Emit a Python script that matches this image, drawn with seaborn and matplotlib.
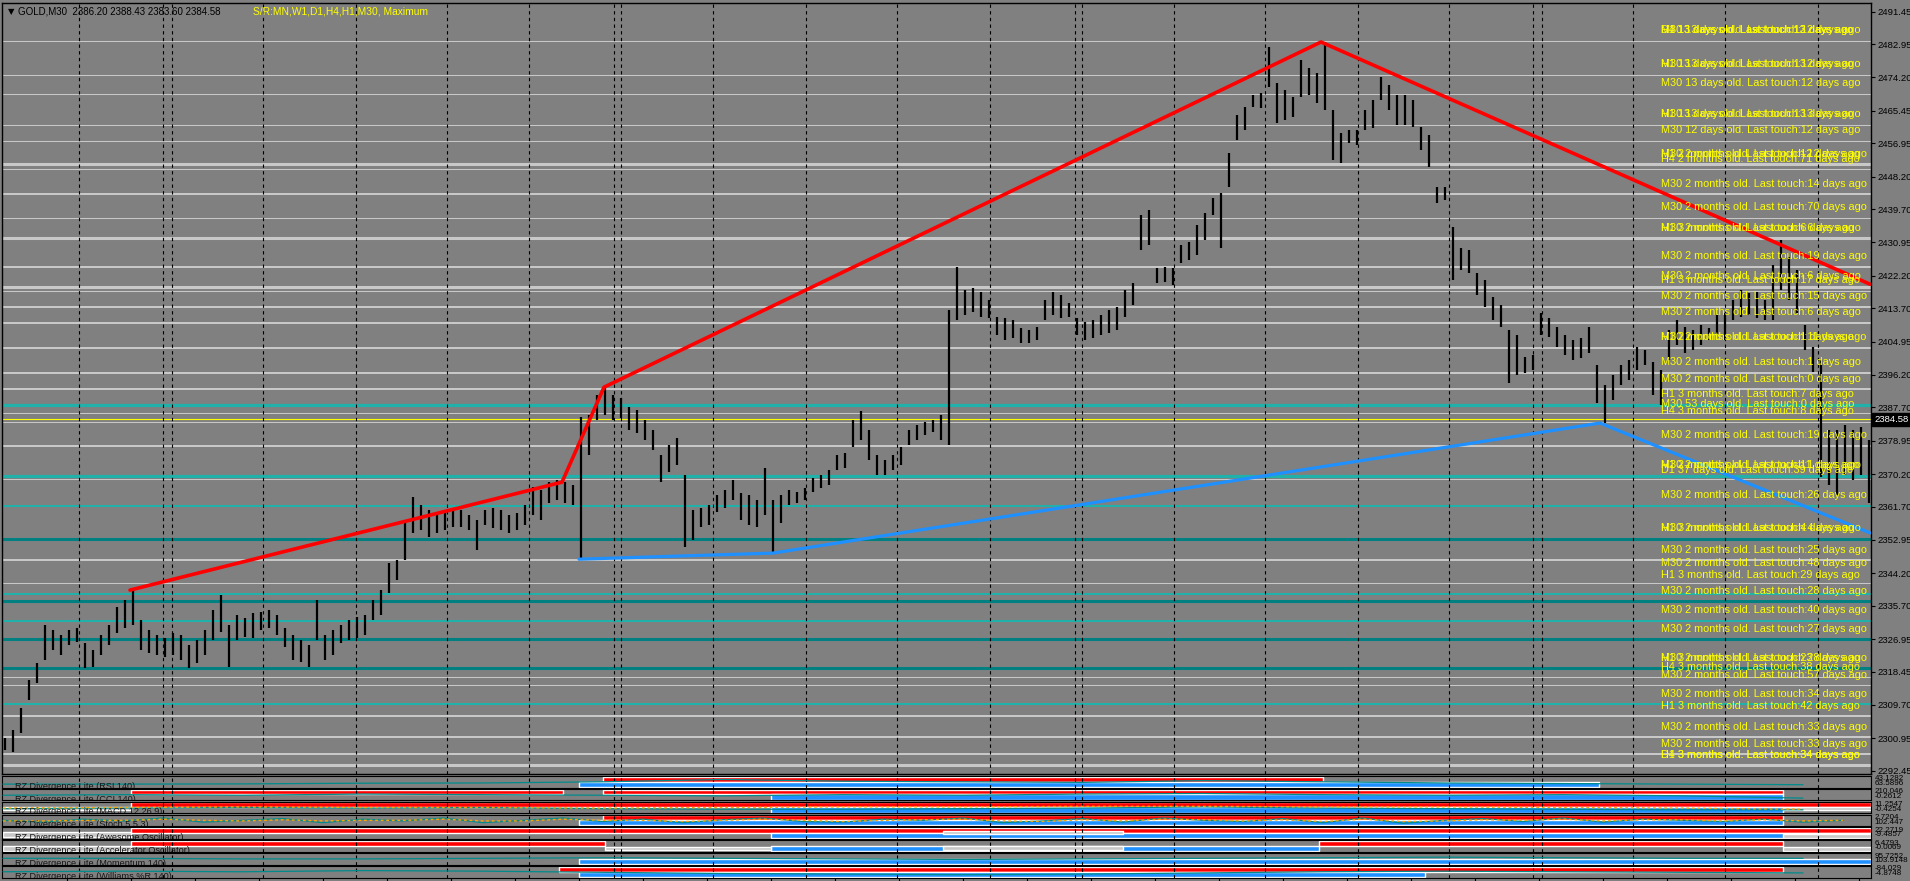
"""
GOLD M30 chart with S/R levels, trendlines and RZ Divergence panels (MT4 look).
"""
import numpy as np
import pandas as pd
import matplotlib
matplotlib.use("Agg")
import matplotlib.pyplot as plt
import matplotlib.transforms as mtransforms
import seaborn as sns

sns.set_style("white")
plt.rcParams["font.family"] = ["Liberation Sans", "DejaVu Sans"]

W, H = 1910, 881
BG = "#808080"

# ---- price bars, read every 4th M30 bar ----
BAR_HIGH = [
    2301.0, 2303.1, 2308.9, 2316.2, 2320.7, 2330.6, 2329.3, 2328.0, 2329.3, 2329.8,
    2325.9, 2324.1, 2328.0, 2330.6, 2335.3, 2337.2, 2339.8, 2331.9, 2329.3, 2328.0,
    2327.2, 2328.5, 2328.0, 2325.4, 2326.7, 2329.3, 2334.6, 2338.5, 2330.6, 2333.2,
    2332.5, 2333.8, 2334.0, 2334.6, 2333.2, 2329.8, 2328.0, 2326.7, 2325.4, 2337.2,
    2328.0, 2329.3, 2330.6, 2331.9, 2332.7, 2333.2, 2337.2, 2339.8, 2346.9, 2347.7,
    2358.2, 2364.2, 2362.1, 2360.8, 2359.5, 2360.3, 2361.3, 2360.8, 2359.5, 2358.2,
    2360.8, 2361.3, 2360.8, 2359.5, 2360.0, 2362.1, 2366.8, 2366.0, 2368.1, 2368.6,
    2368.1, 2367.3, 2385.2, 2385.7, 2390.9, 2393.0, 2390.9, 2390.1, 2387.8, 2387.0,
    2384.4, 2381.8, 2375.2, 2377.8, 2379.7, 2370.0, 2360.8, 2361.3, 2362.1, 2364.7,
    2366.0, 2368.6, 2365.2, 2364.7, 2363.4, 2371.8, 2363.4, 2364.7, 2366.0, 2365.5,
    2366.5, 2369.2, 2370.0, 2371.3, 2375.2, 2375.7, 2384.4, 2386.7, 2381.8, 2375.2,
    2373.9, 2375.2, 2377.3, 2381.8, 2383.1, 2383.9, 2384.4, 2385.7, 2413.2, 2424.5,
    2418.5, 2419.0, 2417.9, 2415.8, 2411.4, 2411.1, 2410.6, 2408.5, 2408.0, 2408.8,
    2415.8, 2417.9, 2417.2, 2415.1, 2411.1, 2410.1, 2410.6, 2411.9, 2413.2, 2414.0,
    2418.5, 2420.3, 2438.1, 2439.4, 2424.2, 2424.5, 2424.2, 2430.3, 2431.0, 2435.5,
    2438.7, 2442.6, 2443.9, 2454.4, 2464.3, 2466.4, 2469.6, 2470.1, 2482.2, 2472.7,
    2470.9, 2469.1, 2478.8, 2476.7, 2475.4, 2483.5, 2465.7, 2459.6, 2460.4, 2460.4,
    2465.7, 2468.3, 2474.3, 2472.2, 2469.6, 2469.6, 2468.3, 2461.2, 2459.1, 2445.5,
    2445.5, 2435.0, 2429.5, 2428.9, 2422.9, 2421.1, 2416.6, 2414.5, 2408.0, 2406.7,
    2400.9, 2401.4, 2412.4, 2411.1, 2408.8, 2406.7, 2405.4, 2405.9, 2408.8, 2398.8,
    2393.6, 2396.2, 2398.8, 2400.1, 2403.5, 2402.7, 2399.6, 2397.5, 2408.0, 2410.6,
    2408.8, 2408.0, 2409.3, 2408.5, 2411.9, 2412.4, 2415.8, 2418.5, 2417.7, 2417.9,
    2415.8, 2425.0, 2431.6, 2427.1, 2423.7, 2409.3, 2403.5, 2400.1, 2381.8, 2381.8,
    2383.1, 2381.8, 2382.5, 2379.1,
]
BAR_LOW = [
    2297.8, 2297.3, 2302.3, 2311.0, 2315.4, 2321.4, 2324.1, 2322.8, 2325.4, 2326.2,
    2319.3, 2319.6, 2322.8, 2325.4, 2328.5, 2329.8, 2330.6, 2324.1, 2323.3, 2322.8,
    2322.2, 2322.8, 2321.4, 2319.3, 2320.7, 2322.8, 2326.7, 2328.8, 2319.6, 2326.7,
    2327.5, 2327.2, 2329.3, 2329.8, 2328.0, 2324.9, 2321.4, 2320.9, 2319.6, 2326.7,
    2321.4, 2322.8, 2325.9, 2326.7, 2327.2, 2328.0, 2331.9, 2333.2, 2339.0, 2342.4,
    2347.7, 2354.7, 2355.5, 2353.7, 2354.7, 2355.5, 2356.3, 2356.3, 2355.5, 2350.3,
    2356.8, 2356.1, 2355.5, 2354.7, 2355.5, 2356.8, 2359.5, 2358.2, 2362.6, 2363.4,
    2362.6, 2362.1, 2347.7, 2375.2, 2384.4, 2385.7, 2384.4, 2384.9, 2381.8, 2381.0,
    2379.1, 2376.5, 2368.1, 2370.7, 2372.6, 2351.1, 2352.9, 2356.3, 2356.8, 2360.3,
    2361.3, 2363.4, 2358.2, 2356.8, 2356.3, 2359.5, 2349.5, 2357.4, 2362.1, 2362.6,
    2363.4, 2365.5, 2366.5, 2367.3, 2371.3, 2371.8, 2377.3, 2379.1, 2373.9, 2370.0,
    2370.0, 2371.3, 2372.6, 2377.8, 2379.1, 2380.4, 2381.2, 2379.1, 2377.8, 2410.6,
    2411.9, 2412.7, 2411.4, 2411.1, 2406.7, 2405.4, 2405.9, 2404.6, 2404.6, 2405.4,
    2410.6, 2411.9, 2411.1, 2411.4, 2406.7, 2405.4, 2405.9, 2406.7, 2407.2, 2408.0,
    2411.4, 2414.5, 2428.9, 2430.3, 2420.3, 2420.6, 2419.8, 2425.5, 2426.3, 2427.6,
    2431.6, 2438.1, 2429.5, 2445.5, 2457.8, 2460.4, 2466.4, 2466.2, 2471.7, 2462.2,
    2463.0, 2463.8, 2469.1, 2469.6, 2467.5, 2465.7, 2452.5, 2451.8, 2457.0, 2456.5,
    2460.4, 2460.9, 2468.3, 2465.7, 2461.7, 2461.7, 2461.2, 2455.2, 2450.7, 2441.3,
    2442.1, 2421.1, 2423.7, 2422.9, 2417.2, 2414.0, 2410.6, 2408.8, 2394.1, 2396.2,
    2396.7, 2397.5, 2406.7, 2406.1, 2403.5, 2401.4, 2400.1, 2400.6, 2401.9, 2388.8,
    2383.6, 2389.6, 2393.6, 2394.9, 2397.5, 2398.8, 2390.9, 2388.3, 2400.1, 2404.0,
    2401.9, 2402.7, 2404.0, 2405.4, 2406.7, 2405.4, 2410.6, 2411.4, 2411.9, 2411.1,
    2410.6, 2410.6, 2418.5, 2415.8, 2412.4, 2402.7, 2397.0, 2369.4, 2367.3, 2364.7,
    2370.0, 2368.7, 2370.0, 2362.6,
]
BAR_FIRST, BAR_STEP = 1, 4
LAST_PRICE = 2384.58

# ---- trendlines (bar index, price) ----
RED_BARS = [63.5, 279.5, 300.5, 659, 933.5]
RED_PRICES = [2339.8, 2368.1, 2393.0, 2483.5, 2420.0]
BLUE_BARS = [288, 385, 798.5, 933.5]
BLUE_PRICES = [2347.9, 2349.5, 2383.6, 2354.8]

# ---- day separators (bar index) ----
SEPARATORS = [38, 80, 84.5, 130, 176.5, 222, 263, 305.5, 309, 355, 401.5, 447,
              493.5, 536, 539.5, 585.5, 631, 677.5, 723, 765, 769.5, 815, 861, 907.5]

# ---- S/R levels ----
SR_PRICES = [2483.8, 2474.9, 2469.9, 2461.7, 2457.5, 2451.5, 2450.2, 2443.6, 2437.3, 2432.1,
             2424.5, 2419.2, 2418.2, 2414.0, 2409.8, 2403.3, 2396.7, 2392.5, 2388.3, 2386.2,
             2383.9, 2377.6, 2369.7, 2368.9, 2361.8, 2353.2, 2347.7, 2341.6, 2338.8, 2336.9,
             2331.7, 2327.0, 2319.3, 2317.0, 2314.9, 2309.9, 2306.8, 2301.3, 2296.8, 2293.9]
SR_KIND = ["thin", "thin", "thin", "thin", "thin", "thick", "thin", "mid", "thin", "thick",
           "mid", "thick", "thin", "mid", "mid", "mid", "mid", "mid", "teal3", "thin",
           "thin", "mid", "teal3", "thin", "teal", "dteal", "mid", "thin", "teal", "dteal",
           "teal", "dteal", "dteal", "thin", "thin", "teal", "mid", "mid", "mid", "thick"]

LABEL_PRICES = [2486.7, 2486.7, 2486.7, 2477.7, 2477.7, 2472.7, 2464.6, 2464.6, 2460.4,
                2454.1, 2454.1, 2452.8, 2446.3, 2440.2, 2434.7, 2434.7, 2427.4, 2422.1,
                2421.1, 2416.9, 2412.7, 2406.1, 2406.1, 2399.6, 2395.1, 2391.2, 2388.6,
                2386.7, 2380.4, 2372.6, 2372.6, 2371.3, 2364.7, 2356.1, 2356.1, 2350.3,
                2346.9, 2343.7, 2339.5, 2334.6, 2329.6, 2322.0, 2322.0, 2319.6, 2317.5,
                2312.5, 2309.4, 2303.9, 2299.4, 2296.5, 2296.5]
LABEL_TEXTS = [
    "H4 13 days old. Last touch:12 days ago", "M30 13 days old. Last touch:12 days ago",
    "D1 13 days old. Last touch:13 days ago",
    "H1 13 days old. Last touch:13 days ago", "M30 13 days old. Last touch:12 days ago",
    "M30 13 days old. Last touch:12 days ago",
    "H1 13 days old. Last touch:13 days ago", "M30 13 days old. Last touch:13 days ago",
    "M30 12 days old. Last touch:12 days ago",
    "H1 2 months old. Last touch:12 days ago", "M30 2 months old. Last touch:12 days ago",
    "H4 2 months old. Last touch:71 days ago",
    "M30 2 months old. Last touch:14 days ago",
    "M30 2 months old. Last touch:70 days ago",
    "H1 3 months old. Last touch:6 days ago", "M30 2 months old. Last touch:6 days ago",
    "M30 2 months old. Last touch:19 days ago",
    "M30 2 months old. Last touch:6 days ago",
    "H1 3 months old. Last touch:17 days ago",
    "M30 2 months old. Last touch:15 days ago",
    "M30 2 months old. Last touch:6 days ago",
    "H1 2 months old. Last touch:1 days ago", "M30 2 months old. Last touch:11 days ago",
    "M30 2 months old. Last touch:1 days ago",
    "M30 2 months old. Last touch:0 days ago",
    "H1 3 months old. Last touch:7 days ago",
    "M30 53 days old. Last touch:0 days ago",
    "H4 3 months old. Last touch:8 days ago",
    "M30 2 months old. Last touch:19 days ago",
    "H1 2 months old. Last touch:11 days ago", "M30 2 months old. Last touch:1 days ago",
    "D1 37 days old. Last touch:39 days ago",
    "M30 2 months old. Last touch:26 days ago",
    "H1 3 months old. Last touch:4 days ago", "M30 2 months old. Last touch:4 days ago",
    "M30 2 months old. Last touch:25 days ago",
    "M30 2 months old. Last touch:48 days ago",
    "H1 3 months old. Last touch:29 days ago",
    "M30 2 months old. Last touch:28 days ago",
    "M30 2 months old. Last touch:40 days ago",
    "M30 2 months old. Last touch:27 days ago",
    "H1 3 months old. Last touch:23 days ago", "M30 2 months old. Last touch:28 days ago",
    "H4 3 months old. Last touch:38 days ago",
    "M30 2 months old. Last touch:57 days ago",
    "M30 2 months old. Last touch:34 days ago",
    "H1 3 months old. Last touch:42 days ago",
    "M30 2 months old. Last touch:33 days ago",
    "M30 2 months old. Last touch:33 days ago",
    "D1 3 months old. Last touch:34 days ago", "H4 3 months old. Last touch:34 days ago",
]
LABEL_BAR = 829

PRICE_TICKS = [2491.45, 2482.95, 2474.20, 2465.45, 2456.95, 2448.20, 2439.70, 2430.95,
               2422.20, 2413.70, 2404.95, 2396.20, 2387.70, 2378.95, 2370.20, 2361.70,
               2352.95, 2344.20, 2335.70, 2326.95, 2318.45, 2309.70, 2300.95, 2292.45]

# ---- indicator panels ----
PANEL_TITLES = ["RZ Divergence Lite (RSI,140)", "RZ Divergence Lite (CCI,140)",
                "RZ Divergence Lite (MACD,12,26,9)", "RZ Divergence Lite (Stoch,5,5,3)",
                "RZ Divergence Lite (Awesome Oscillator)",
                "RZ Divergence Lite (Accelerator Oscillator)",
                "RZ Divergence Lite (Momentum,140)", "RZ Divergence Lite (Williams %R,140)"]
PANEL_RED = [[(300, 660)], [(64, 280), (300, 890)], [(64, 934)], [(300, 890)],
             [(64, 934)], [(64, 301), (658, 890)], [], [(278, 890)]]
PANEL_BLUE = [[(288, 798)], [(384, 890)], [(384, 890)], [(288, 890)],
              [(384, 934)], [(384, 658)], [(288, 934)], [(288, 711)]]
PANEL_LIGHT = [[], [], [(0, 64, 0.3, 0.55), (890, 934, 0.3, 0.55)], [],
               [(0, 64, 0.2, 0.6), (470, 560, 0.45, 0.7), (890, 934, 0.05, 0.4)],
               [(0, 64, 0.1, 0.5), (301, 384, 0.15, 0.4), (470, 560, 0.2, 0.5),
                (890, 934, 0.1, 0.45)], [], []]
PANEL_TEAL = [
    [0.3, 0.3, 0.32, 0.38, 0.4, 0.5, 0.7, 0.55, 0.5, 0.45, 0.6, 0.5, 0.4, 0.35, 0.3, 0.25],
    [0.45, 0.5, 0.45, 0.55, 0.5, 0.45, 0.4, 0.5, 0.45, 0.55, 0.6, 0.5, 0.45, 0.5, 0.4, 0.2],
    [0.4, 0.45, 0.5, 0.45, 0.5, 0.4, 0.35, 0.35, 0.4, 0.45, 0.55, 0.45, 0.4, 0.35, 0.3, 0.3],
    None, None, None,
    [0.55, 0.55, 0.5, 0.5, 0.55, 0.6, 0.55, 0.5, 0.45, 0.5, 0.55, 0.6, 0.65, 0.6, 0.55, 0.55],
    [0.5, 0.55, 0.5, 0.6, 0.55, 0.45, 0.35, 0.3, 0.25, 0.3, 0.4, 0.5, 0.55, 0.5, 0.45, 0.4],
]
MACD_SIGNAL = [0.45, 0.5, 0.55, 0.5, 0.5, 0.45, 0.5, 0.55, 0.55, 0.6, 0.6, 0.55, 0.55, 0.5, 0.45, 0.35]
STOCH_MAIN = [0.5, 0.35, 0.6, 0.45, 0.7, 0.35, 0.5, 0.65, 0.3, 0.6, 0.45, 0.7, 0.3, 0.5, 0.7, 0.4,
              0.6, 0.3, 0.55, 0.7, 0.4, 0.35, 0.6, 0.5, 0.7, 0.3, 0.45, 0.65, 0.35, 0.7, 0.5, 0.4,
              0.65, 0.3, 0.7, 0.25, 0.5, 0.65, 0.4, 0.7, 0.35, 0.6, 0.5, 0.4, 0.6, 0.35, 0.5]
STOCH_SIGNAL = [0.45, 0.45, 0.5, 0.5, 0.6, 0.5, 0.45, 0.55, 0.45, 0.5, 0.5, 0.6, 0.45, 0.45, 0.6, 0.5,
                0.5, 0.4, 0.5, 0.6, 0.5, 0.4, 0.5, 0.55, 0.6, 0.45, 0.4, 0.55, 0.45, 0.6, 0.55, 0.45,
                0.55, 0.4, 0.6, 0.4, 0.45, 0.55, 0.5, 0.6, 0.45, 0.55, 0.55, 0.45, 0.55, 0.45, 0.5]
PANEL_SCALE = [("43.1282", "63.5896"), ("210.046", "-0.2612"), ("11.2547", "-0.4254"),
               ("2.7204", "102.447"), ("22.2719", "-9.4857"), ("6.4793", "-0.0069"),
               ("95.7252", "103.9148"), ("-84.029", "-4.8748")]

SR_STYLE = {
    "thin": ("#C8C8C8", 0.75), "mid": ("#C8C8C8", 1.45), "thick": ("#C8C8C8", 2.2),
    "teal": ("#20B2AA", 1.45), "teal3": ("#20B2AA", 2.3), "dteal": ("#008080", 2.2),
}
X0, X1 = -0.5, 934
Y0, Y1 = 2291.58, 2493.73


def px_box(left, top, right, bottom):
    return [left / W, 1 - bottom / H, (right - left) / W, (bottom - top) / H]


def draw_separators(ax):
    for s in SEPARATORS:
        ax.axvline(s, color="black", lw=0.8, ls=(0, (3, 3)), zorder=1.5)


fig = plt.figure(figsize=(W / 100, H / 100), dpi=100, facecolor=BG)

# ---- main chart ----
ax = fig.add_axes(px_box(2, 3, 1871, 774))
ax.set_facecolor(BG)
ax.set_xlim(X0, X1)
ax.set_ylim(Y0, Y1)

for p, k in zip(SR_PRICES, SR_KIND):
    c, lw = SR_STYLE[k]
    ax.axhline(p, color=c, lw=lw, zorder=1)
ax.axhline(LAST_PRICE, color="#FFFF00", lw=0.8, zorder=1.2)
draw_separators(ax)

bars = BAR_FIRST + BAR_STEP * np.arange(len(BAR_HIGH))
ax.vlines(bars, BAR_LOW, BAR_HIGH, color="black", lw=1.6, zorder=3)

red = pd.DataFrame({"bar": RED_BARS, "price": RED_PRICES})
blue = pd.DataFrame({"bar": BLUE_BARS, "price": BLUE_PRICES})
sns.lineplot(data=red, x="bar", y="price", ax=ax, color="#FF0000", lw=2.6,
             sort=False, estimator=None, legend=False, zorder=4)
sns.lineplot(data=blue, x="bar", y="price", ax=ax, color="#1E90FF", lw=2.3,
             sort=False, estimator=None, legend=False, zorder=4)

for p, t in zip(LABEL_PRICES, LABEL_TEXTS):
    ax.text(LABEL_BAR, p, t, color="#FFFF00", fontsize=7.8, va="center", ha="left",
            zorder=5, clip_on=False)

ax.set_xlabel("")
ax.set_ylabel("")
ax.set_xticks([])
ax.yaxis.tick_right()
ax.set_yticks(PRICE_TICKS)
ax.set_yticklabels([f"{v:.2f}" for v in PRICE_TICKS])
ax.tick_params(axis="y", right=True, left=False, length=3, width=0.8, color="black",
               labelsize=6.8, pad=2, labelcolor="black")
for sp in ax.spines.values():
    sp.set_color("black")
    sp.set_linewidth(1.0)

trans = mtransforms.blended_transform_factory(ax.transAxes, ax.transData)
ax.text(1.0016, LAST_PRICE, f"{LAST_PRICE:.2f}", transform=trans, ha="left", va="center",
        color="white", fontsize=6.8, zorder=6, clip_on=False,
        bbox=dict(facecolor="black", edgecolor="black", pad=1.3))

fig.text(8 / W, 1 - 12 / H, "\u25bc", fontsize=6, color="black", va="center",
         family=["DejaVu Sans"])
fig.text(18 / W, 1 - 12 / H, "GOLD,M30  2386.20 2388.43 2383.60 2384.58",
         fontsize=7.0, color="black", va="center")
fig.text(253 / W, 1 - 12 / H, "S/R:MN,W1,D1,H4,H1,M30, Maximum",
         fontsize=7.4, color="#FFFF00", va="center")

# ---- indicator panels ----
for k in range(8):
    top = 776 + 12.85 * k
    pax = fig.add_axes(px_box(2, top, 1871, top + 11.6))
    pax.set_facecolor(BG)
    pax.set_xlim(X0, X1)
    pax.set_ylim(0, 1)
    if PANEL_RED[k]:
        pax.broken_barh([(s, e - s) for s, e in PANEL_RED[k]], (0.52, 0.42),
                        facecolors="#FF0000", zorder=1)
    if PANEL_BLUE[k]:
        pax.broken_barh([(s, e - s) for s, e in PANEL_BLUE[k]], (0.06, 0.46),
                        facecolors="#1E90FF", zorder=1)
    for s, e, y0, y1 in PANEL_LIGHT[k]:
        pax.broken_barh([(s, e - s)], (y0, y1 - y0), facecolors="#C8C8C8", zorder=1.2)
    draw_separators(pax)
    if PANEL_TEAL[k] is not None:
        xs = np.arange(len(PANEL_TEAL[k])) * 60
        sns.lineplot(x=xs, y=PANEL_TEAL[k], ax=pax, color="#008B8B", lw=0.9,
                     estimator=None, legend=False, zorder=3)
    if k == 2:
        xs = np.arange(len(MACD_SIGNAL)) * 60
        pax.plot(xs, MACD_SIGNAL, color="#FFA500", lw=1.0, ls=(0, (2, 2)), zorder=3)
    if k == 3:
        xs = np.arange(len(STOCH_MAIN)) * 20
        sns.lineplot(x=xs, y=STOCH_MAIN, ax=pax, color="#008B8B", lw=0.9,
                     estimator=None, legend=False, zorder=3)
        pax.plot(xs, STOCH_SIGNAL, color="#FFA500", lw=1.0, ls=(0, (2, 2)), zorder=3)
    pax.text(6, 0.5, PANEL_TITLES[k], fontsize=6.6, color="#151515", va="top",
             ha="left", clip_on=True, zorder=4)
    hi, lo = PANEL_SCALE[k]
    pax.text(1.002, 0.75, hi, transform=pax.transAxes, fontsize=5.8, color="black",
             va="center", ha="left", clip_on=False)
    pax.text(1.002, 0.35, lo, transform=pax.transAxes, fontsize=5.8, color="black",
             va="center", ha="left", clip_on=False)
    pax.set_xlabel("")
    pax.set_ylabel("")
    pax.set_yticks([])
    if k == 7:
        pax.set_xticks(np.arange(32, 934, 32))
        pax.tick_params(axis="x", length=3, width=0.8, color="black", labelbottom=False,
                        direction="out", bottom=True)
    else:
        pax.set_xticks([])
    for sp in pax.spines.values():
        sp.set_color("black")
        sp.set_linewidth(0.8)

fig.savefig("out.png", dpi=100, facecolor=BG)
